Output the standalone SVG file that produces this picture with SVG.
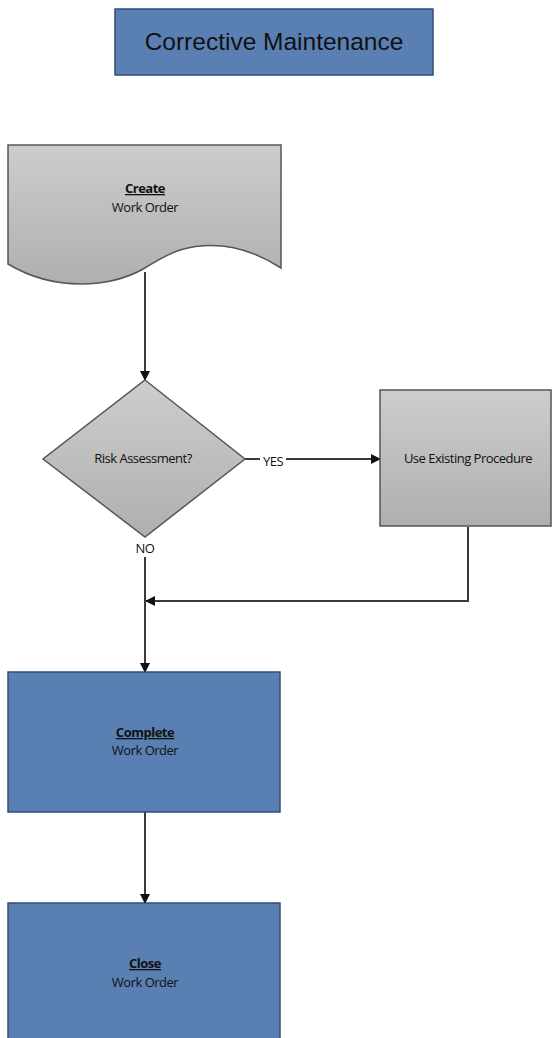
<svg xmlns="http://www.w3.org/2000/svg" width="553" height="1038" viewBox="0 0 553 1038">
<style>
.lbl{font-family:"Open Sans","Liberation Sans",sans-serif;font-size:13px;fill:#111;text-anchor:middle;letter-spacing:-0.5px}
.bold{font-weight:bold;text-decoration:underline}
.gray{fill:url(#g);stroke:#555;stroke-width:1.5}
.blue{fill:#5a80b3;stroke:#2f4f7a;stroke-width:1.5}
.conn{stroke:#3a3a3a;stroke-width:2;fill:none}
</style>
<defs>
<linearGradient id="g" x1="0" y1="0" x2="0" y2="1">
<stop offset="0" stop-color="#cdcdcd"/>
<stop offset="1" stop-color="#afafaf"/>
</linearGradient>
<marker id="arr" markerWidth="10" markerHeight="10" refX="9" refY="5" orient="auto" markerUnits="userSpaceOnUse">
<path d="M0,0 L10,5 L0,10 Z" fill="#111"/>
</marker>
</defs>
<rect width="553" height="1038" fill="#fff"/>
<g id="title">
<rect x="115" y="9" width="318" height="66" class="blue"/>
<text x="274" y="50" font-family="Liberation Sans, Arial, sans-serif" font-size="24.5" fill="#111" text-anchor="middle">Corrective Maintenance</text>
</g>
<g id="connectors">
<line x1="145" y1="272" x2="145" y2="380" class="conn" marker-end="url(#arr)"/>
<line x1="245" y1="459" x2="380" y2="459" class="conn" marker-end="url(#arr)"/>
<polyline points="468,527 468,601 146,601" class="conn" marker-end="url(#arr)"/>
<line x1="145" y1="557" x2="145" y2="672" class="conn" marker-end="url(#arr)"/>
<line x1="145" y1="812" x2="145" y2="903" class="conn" marker-end="url(#arr)"/>
<rect x="260" y="452" width="26" height="14" fill="#fff"/>
<text x="273" y="466" class="lbl">YES</text>
<text x="145" y="553" class="lbl">NO</text>
</g>
<g id="create">
<path d="M8,145 H281 V268 C250,248 215,240 180,250 C165,255 155,262 145,268 C110,288 55,292 8,264 Z" class="gray"/>
<text x="145" y="193" class="lbl bold">Create</text>
<text x="145" y="212" class="lbl">Work Order</text>
</g>
<g id="risk">
<polygon points="145,380 245,459 145,537 43,459" class="gray"/>
<text x="143" y="463" class="lbl">Risk Assessment?</text>
</g>
<g id="procedure">
<rect x="380" y="390" width="171" height="136" class="gray"/>
<text x="468" y="463" class="lbl">Use Existing Procedure</text>
</g>
<g id="complete">
<rect x="8" y="672" width="272" height="140" class="blue"/>
<text x="145" y="737" class="lbl bold">Complete</text>
<text x="145" y="755" class="lbl">Work Order</text>
</g>
<g id="close">
<rect x="8" y="903" width="272" height="140" class="blue"/>
<text x="145" y="968" class="lbl bold">Close</text>
<text x="145" y="987" class="lbl">Work Order</text>
</g>
</svg>
